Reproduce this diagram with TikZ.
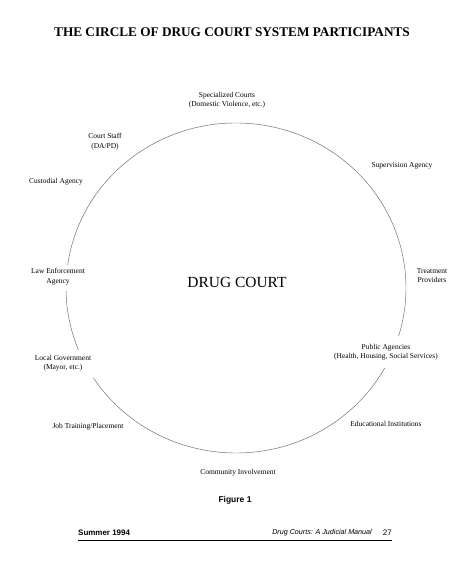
\documentclass[tikz,border=0pt]{standalone}
\usepackage{fontspec}
\setmainfont{Liberation Serif}
\newfontfamily\footfont{Liberation Sans}

\tikzset{
  part/.style={font=\fontsize{7.5}{9.5}\selectfont, align=center, inner sep=0pt},
  ring/.style={draw=black!60, line width=0.45pt},
  foot/.style={font=\footfont\fontsize{8}{9.6}\selectfont, inner sep=0pt}
}

\begin{document}
\begin{tikzpicture}[x=1bp, y=1bp]
  \useasboundingbox (0,0) rectangle (468,584);

  % --- Title ---
  \node (title) at (232,552) {\fontsize{13.3}{16}\selectfont\bfseries THE CIRCLE OF DRUG COURT SYSTEM PARTICIPANTS};

  % --- Circle, broken at three labels ---
  \coordinate (ctr) at (236,296);
  \draw[ring] (ctr) ++(172:170 and 165) arc[start angle=172, end angle=-17, x radius=170, y radius=165];
  \draw[ring] (ctr) ++(181:170 and 165) arc[start angle=181, end angle=202, x radius=170, y radius=165];
  \draw[ring] (ctr) ++(213:170 and 165) arc[start angle=213, end angle=331, x radius=170, y radius=165];

  \node (court) at (237,302) {\fontsize{15.5}{18}\selectfont DRUG COURT};

  % --- Participants ---
  \node[part] (special) at (227,484) {Specialized Courts\\(Domestic Violence, etc.)};
  \node[part] (staff)   at (105,442.5) {Court Staff\\(DA/PD)};
  \node[part] (custody) at (56,402) {Custodial Agency};
  \node[part] (police)  at (58,307.5) {Law Enforcement\\Agency};
  \node[part] (locgov)  at (63,221) {Local Government\\(Mayor, etc.)};
  \node[part] (jobs)    at (88,157) {Job Training/Placement};
  \node[part] (commun)  at (238,111) {Community Involvement};
  \node[part] (educ)    at (386,160) {Educational Institutions};
  \node[part] (public)  at (386,232) {Public Agencies\\(Health, Housing, Social Services)};
  \node[part] (treat)   at (432,308.5) {Treatment\\Providers};
  \node[part] (superv)  at (402,418) {Supervision Agency};

  % --- Caption and page footer ---
  \node[foot, font=\footfont\fontsize{8.5}{10}\selectfont\bfseries] (fig) at (235,84) {Figure 1};
  \node[foot, anchor=west, font=\footfont\fontsize{8}{9.6}\selectfont\bfseries] (season) at (78,51) {Summer 1994};
  \node[foot, anchor=east, font=\footfont\fontsize{7.2}{9}\selectfont\itshape] (book) at (372,51) {Drug Courts: A Judicial Manual};
  \node[foot, anchor=east] (page) at (392,51) {27};
  \draw[line width=0.9pt] (78,44) -- (392,44);
\end{tikzpicture}
\end{document}
